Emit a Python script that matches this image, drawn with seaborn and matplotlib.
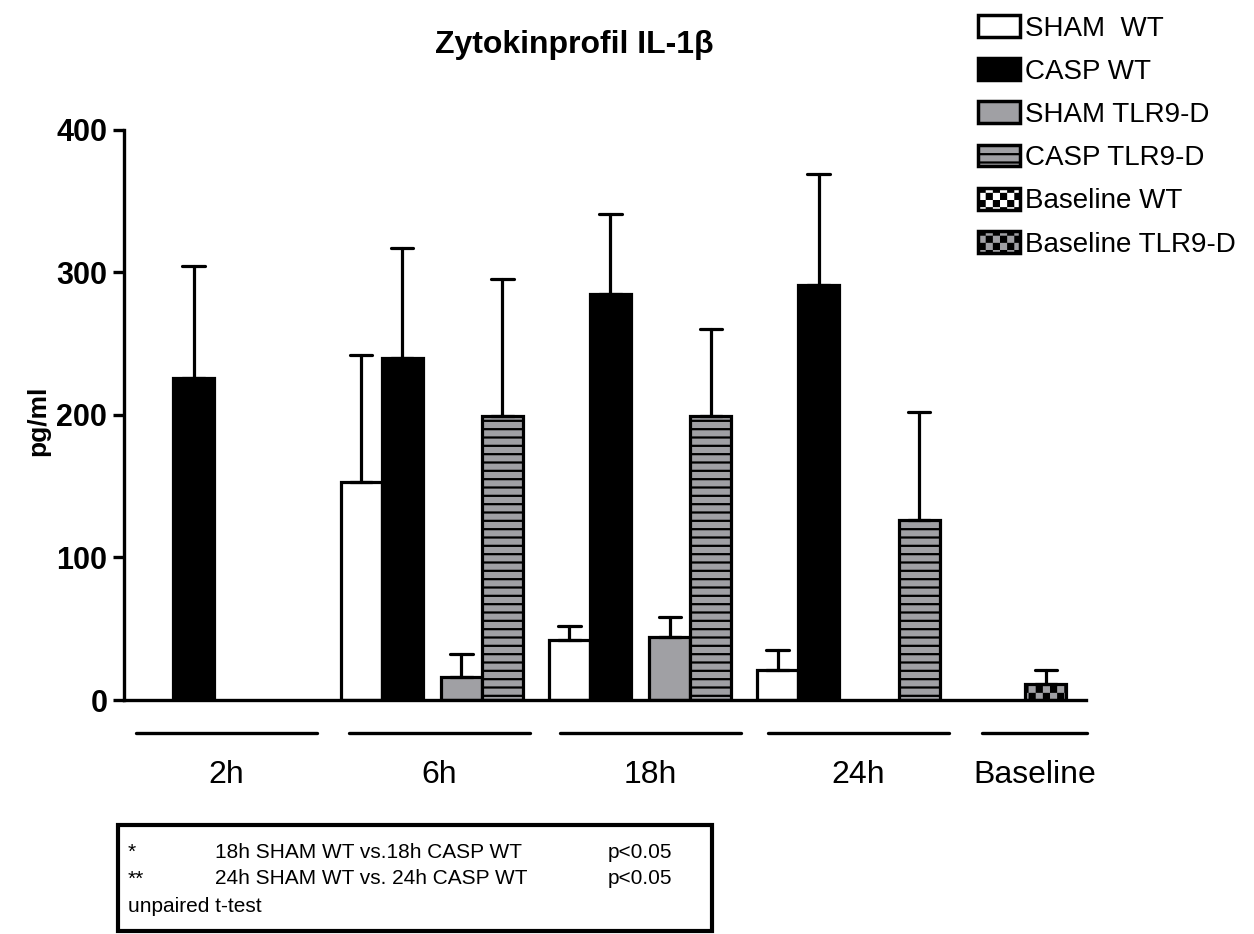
import warnings
import numpy as np
import pandas as pd
import matplotlib
matplotlib.use('agg')
import matplotlib.pyplot as plt
import matplotlib.hatch as mhatch
from matplotlib.path import Path
from matplotlib.patches import Patch, Rectangle
import seaborn as sns

warnings.filterwarnings('ignore')

# data (pg/ml, mean and upper SD)
groups = ['2h', '6h', '18h', '24h', 'Baseline']
series = ['SHAM  WT', 'CASP WT', 'SHAM TLR9-D', 'CASP TLR9-D', 'Baseline WT', 'Baseline TLR9-D']

sham_wt = [np.nan, 153, 42, 21, np.nan]
casp_wt = [226, 240, 285, 291, np.nan]
sham_tlr9 = [np.nan, 16, 44, np.nan, np.nan]
casp_tlr9 = [np.nan, 199, 199, 126, np.nan]
baseline_wt = [np.nan, np.nan, np.nan, np.nan, np.nan]
baseline_tlr9 = [np.nan, np.nan, np.nan, np.nan, 11]

sham_wt_sd = [np.nan, 89, 10, 14, np.nan]
casp_wt_sd = [78, 77, 56, 78, np.nan]
sham_tlr9_sd = [np.nan, 16, 14, np.nan, np.nan]
casp_tlr9_sd = [np.nan, 96, 61, 76, np.nan]
baseline_wt_sd = [np.nan, np.nan, np.nan, np.nan, np.nan]
baseline_tlr9_sd = [np.nan, np.nan, np.nan, np.nan, 10]

footnotes = [('*', '18h SHAM WT vs.18h CASP WT', 'p<0.05'),
             ('**', '24h SHAM WT vs. 24h CASP WT', 'p<0.05'),
             ('unpaired t-test', '', '')]

# layout (units of one bar width)
period = 5.08
slot = [0, 1, 2.45, 3.45, 0.42, 1.46]
line_span = [(-0.41, 4.0), (4.79, 9.2), (9.93, 14.35), (15.0, 19.42), (20.23, 22.79)]

gray = '#a0a0a4'
faces = ['white', 'black', gray, gray, 'white', gray]
hatches = [None, None, None, '--', 'cc', 'cc']


# checkerboard hatch for the baseline bars
class CheckerHatch(mhatch.HatchPatternBase):
    def __init__(self, hatch, density):
        self.n = hatch.count('c') * 7
        self.cells = [(i, j) for i in range(self.n) for j in range(self.n) if (i + j) % 2 == 0]
        self.num_vertices = len(self.cells) * 5

    def set_vertices_and_codes(self, vertices, codes):
        s = 1.0 / self.n
        d = 0.011
        sq = np.array([[d, d], [s - d, d], [s - d, s - d], [d, s - d], [d, d]])
        for k, (i, j) in enumerate(self.cells):
            vertices[k * 5:(k + 1) * 5] = sq + [i * s, j * s]
            codes[k * 5:(k + 1) * 5] = [Path.MOVETO, Path.LINETO, Path.LINETO,
                                        Path.LINETO, Path.CLOSEPOLY]


mhatch._hatch_types.append(CheckerHatch)

means = [sham_wt, casp_wt, sham_tlr9, casp_tlr9, baseline_wt, baseline_tlr9]
sds = [sham_wt_sd, casp_wt_sd, sham_tlr9_sd, casp_tlr9_sd, baseline_wt_sd, baseline_tlr9_sd]

rows = []
for si, name in enumerate(series):
    for gi, g in enumerate(groups):
        m, sd = means[si][gi], sds[si][gi]
        if np.isnan(m):
            continue
        pos = gi * period + slot[si]
        # two rows per bar: estimator takes the min (mean), errorbar spans mean..mean+sd
        rows.append({'pos': pos, 'series': name, 'value': m})
        rows.append({'pos': pos, 'series': name, 'value': m + sd})
df = pd.DataFrame(rows)

sns.set_style('ticks')
plt.rcParams['font.family'] = ['Liberation Sans', 'DejaVu Sans']
plt.rcParams['hatch.linewidth'] = 1.6
for k in ['text.color', 'axes.labelcolor', 'xtick.color', 'ytick.color', 'axes.edgecolor']:
    plt.rcParams[k] = 'black'

fig = plt.figure(figsize=(12.54, 9.34), dpi=100)
ax = fig.add_axes([124 / 1254, 1 - 700 / 934, (1086 - 124) / 1254, (700 - 129.6) / 934])

sns.barplot(data=df, x='pos', y='value', hue='series', hue_order=series,
            palette=dict(zip(series, faces)), saturation=1, native_scale=True,
            dodge=False, width=1.0, estimator='min',
            errorbar=lambda v: (v.min(), v.max()), capsize=0.55,
            err_kws={'color': 'black', 'linewidth': 2.3},
            edgecolor='black', linewidth=2.3, legend=False, ax=ax)

for cont, h in zip(ax.containers, hatches):
    if h:
        for p in cont.patches:
            p.set_hatch(h)

ax.set_xlim(-0.70, 22.76)
ax.set_ylim(0, 400)
ax.set_yticks([0, 100, 200, 300, 400])
ax.set_xticks([])
ax.set_xlabel('')
sns.despine(ax=ax)
for sp in ['left', 'bottom']:
    ax.spines[sp].set_linewidth(2.4)
ax.tick_params(axis='y', length=8, width=2.4, pad=4, labelsize=22)
for t in ax.get_yticklabels():
    t.set_fontweight('bold')
ax.set_ylabel('pg/ml', fontsize=19, fontweight='bold')
ax.yaxis.set_label_coords(-0.077, 0.49)

# group underlines and labels
tr = ax.get_xaxis_transform()
for g, (x0, x1) in zip(groups, line_span):
    ax.plot([x0, x1], [-0.058, -0.058], color='black', lw=2.4, transform=tr, clip_on=False)
    ax.text((x0 + x1) / 2, -0.131, g, transform=tr, ha='center', va='center', fontsize=23)

fig.text(574 / 1254, 1 - 45 / 934, 'Zytokinprofil IL-1β', ha='center', va='center',
         fontsize=23, fontweight='bold')

handles = [Patch(facecolor=f, edgecolor='black', linewidth=2.5, hatch=h)
           for f, h in zip(faces, hatches)]
fig.legend(handles, series, loc='upper left', bbox_to_anchor=(978 / 1254, 1 - 15 / 934),
           frameon=False, fontsize=20, handlelength=1.5, handleheight=0.83,
           handletextpad=0.2, labelspacing=0.6, borderpad=0, borderaxespad=0)

# footnote box
fig.patches.append(Rectangle((118 / 1254, 1 - 931 / 934), (712 - 118) / 1254, (931 - 825) / 934,
                             transform=fig.transFigure, facecolor='white', edgecolor='black',
                             linewidth=3))
for i, (a, b, c) in enumerate(footnotes):
    y = 1 - (852 + 27 * i) / 934
    fig.text(128 / 1254, y, a, ha='left', va='center', fontsize=15)
    fig.text(215 / 1254, y, b, ha='left', va='center', fontsize=15)
    fig.text(608 / 1254, y, c, ha='left', va='center', fontsize=15)

fig.savefig('out.png', dpi=100)
